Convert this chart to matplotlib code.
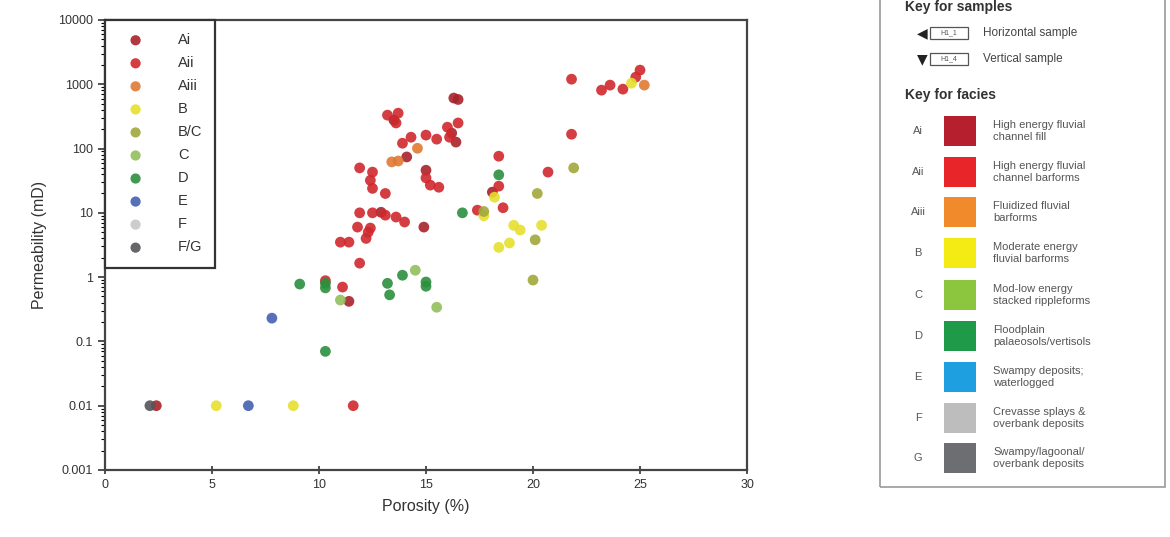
import matplotlib
matplotlib.use("Agg")
import matplotlib.pyplot as plt
from matplotlib.patches import Rectangle
from matplotlib.ticker import FixedLocator, LogLocator, NullFormatter

plt.rcParams['font.family'] = ['Liberation Sans', 'DejaVu Sans']

# Porosity (%) / permeability (mD) per facies
Ai_por = [16.3, 16.5, 16.4, 14.1, 14.9, 18.1, 15.0, 13.5, 2.4, 12.9, 16.2, 11.4]
Ai_perm = [610, 580, 126, 74, 6.0, 21, 46, 277, 0.01, 10.2, 174, 0.42]
Aii_por = [21.8, 23.2, 23.6, 24.2, 25.0, 24.8, 21.8, 18.4, 18.4, 20.7, 17.4, 18.6,
           13.2, 13.7, 13.6, 14.3, 13.9, 15.0, 15.5, 16.0, 16.5, 16.1, 11.9, 12.5,
           12.4, 12.5, 13.1, 15.0, 15.2, 15.6, 11.9, 12.5, 13.1, 13.6, 14.0, 11.8,
           12.4, 11.0, 11.4, 12.2, 12.3, 11.9, 10.3, 11.1, 11.6]
Aii_perm = [1200, 810, 970, 840, 1660, 1290, 167, 76, 26, 43, 11, 12,
            331, 355, 250, 150, 121, 162, 140, 215, 250, 150, 50, 43,
            32, 24, 20, 35, 27, 25, 10, 10, 9.2, 8.6, 7.2, 6.0,
            5.8, 3.5, 3.5, 4.0, 5.0, 1.65, 0.88, 0.7, 0.01]
Aiii_por = [13.4, 13.7, 14.6, 25.2]
Aiii_perm = [62, 64, 101, 970]
B_por = [24.6, 18.2, 17.7, 19.1, 19.4, 20.4, 18.4, 18.9, 5.2, 8.8]
B_perm = [1040, 17.5, 9.0, 6.4, 5.4, 6.4, 2.9, 3.4, 0.01, 0.01]
BC_por = [21.9, 20.2, 17.7, 20.1, 20.0]
BC_perm = [50, 20, 10.5, 3.8, 0.9]
C_por = [11.0, 14.5, 15.5]
C_perm = [0.44, 1.28, 0.34]
D_por = [18.4, 16.7, 9.1, 10.3, 10.3, 13.2, 13.9, 13.3, 15.0, 15.0, 10.3]
D_perm = [39, 10, 0.78, 0.8, 0.68, 0.8, 1.07, 0.53, 0.84, 0.72, 0.07]
E_por = [7.8, 6.7]
E_perm = [0.23, 0.01]
F_por = []
F_perm = []
FG_por = [2.1]
FG_perm = [0.01]

groups = ['Ai', 'Aii', 'Aiii', 'B', 'B/C', 'C', 'D', 'E', 'F', 'F/G']
colors = ['#a8222a', '#d0282c', '#e07a35', '#e6df2e', '#a2a83c', '#93bf5e',
          '#2c8f3e', '#4561b0', '#c8c8c8', '#55555a']
xs = [Ai_por, Aii_por, Aiii_por, B_por, BC_por, C_por, D_por, E_por, F_por, FG_por]
ys = [Ai_perm, Aii_perm, Aiii_perm, B_perm, BC_perm, C_perm, D_perm, E_perm, F_perm, FG_perm]

# facies key
key_codes = ['Ai', 'Aii', 'Aiii', 'B', 'C', 'D', 'E', 'F', 'G']
key_colors = ['#b51f2e', '#e8262a', '#f08a2a', '#f5eb14', '#8cc63f', '#1f9a48',
              '#1ea0e0', '#bdbdbd', '#6d6e71']
key_text = ['High energy fluvial\nchannel fill', 'High energy fluvial\nchannel barforms',
            'Fluidized fluvial\nbarforms', 'Moderate energy\nfluvial barforms',
            'Mod-low energy\nstacked rippleforms', 'Floodplain\npalaeosols/vertisols',
            'Swampy deposits;\nwaterlogged', 'Crevasse splays &\noverbank deposits',
            'Swampy/lagoonal/\noverbank deposits']

fig = plt.figure(figsize=(11.7, 5.37), dpi=100)
ax = fig.add_axes([0.0897, 0.1248, 0.5488, 0.838])

for g, c, x, y in zip(groups, colors, xs, ys):
    ax.scatter(x, y, s=60, color=c, alpha=0.9, edgecolors='none', label=g, zorder=3)

ax.set_yscale('log')
ax.set_xlim(0, 30)
ax.set_ylim(0.001, 10000)
ax.set_xticks([0, 5, 10, 15, 20, 25, 30])
yt = [0.001, 0.01, 0.1, 1, 10, 100, 1000, 10000]
ax.yaxis.set_major_locator(FixedLocator(yt))
ax.set_yticklabels(['0.001', '0.01', '0.1', '1', '10', '100', '1000', '10000'])
ax.yaxis.set_minor_locator(LogLocator(base=10, subs=range(2, 10)))
ax.yaxis.set_minor_formatter(NullFormatter())
ax.tick_params(axis='both', labelsize=9, colors='#333333', width=1.2)
ax.tick_params(axis='x', direction='inout', length=6)
ax.tick_params(axis='y', which='major', direction='out', length=5)
ax.tick_params(axis='y', which='minor', direction='out', length=3, width=0.8)
for sp in ax.spines.values():
    sp.set_linewidth(1.6)
    sp.set_color('#444444')
ax.set_xlabel('Porosity (%)', fontsize=11.5, color='#333333', labelpad=6)
ax.set_ylabel('Permeability (mD)', fontsize=11.5, color='#333333', labelpad=8)

leg = ax.legend(loc='upper left', bbox_to_anchor=(0, 1), borderaxespad=0,
                fancybox=False, edgecolor='#333333', fontsize=10.5,
                labelspacing=0.62, handletextpad=1.7, borderpad=0.9,
                handlelength=2.4, scatterpoints=1, markerscale=0.95)
leg.get_frame().set_linewidth(1.6)
leg.get_frame().set_alpha(1)
for t in leg.get_texts():
    t.set_color('#333333')

# right-hand key panel
W, H = 1170.0, 537.0
def fx(px):
    return px / W
def fy(py):
    return 1 - py / H

fig.patches.append(Rectangle((fx(880), fy(487)), fx(1165) - fx(880), fy(-20) - fy(487),
                             transform=fig.transFigure, fill=False,
                             edgecolor='#9a9a9a', linewidth=1.2))
fig.text(fx(905), fy(7), 'Key for samples', fontsize=10, fontweight='bold',
         color='#333333', va='center')
for py, arrow, code, lab in [(33, '\u25C0', 'H1_1', 'Horizontal sample'),
                             (59, '\u25BC', 'H1_4', 'Vertical sample')]:
    fig.text(fx(922), fy(py), arrow, fontsize=10, ha='center', va='center',
             color='#222222', family='DejaVu Sans')
    fig.patches.append(Rectangle((fx(930), fy(py + 6)), fx(968) - fx(930), fy(py - 6) - fy(py + 6),
                                 transform=fig.transFigure, fill=False,
                                 edgecolor='#555555', linewidth=0.9))
    fig.text(fx(949), fy(py), code, fontsize=5, ha='center', va='center', color='#555555')
    fig.text(fx(983), fy(py), lab, fontsize=8.5, va='center', color='#444444')

fig.text(fx(905), fy(95), 'Key for facies', fontsize=10, fontweight='bold',
         color='#333333', va='center')
row_y = [131, 172, 212, 253, 295, 336, 377, 418, 458]
for py, code, c, txt in zip(row_y, key_codes, key_colors, key_text):
    fig.text(fx(918), fy(py), code, fontsize=8, ha='center', va='center', color='#555555')
    fig.patches.append(Rectangle((fx(944), fy(py + 15)), fx(976) - fx(944), fy(py - 15) - fy(py + 15),
                                 transform=fig.transFigure, facecolor=c, edgecolor='none'))
    fig.text(fx(993), fy(py), txt, fontsize=8, va='center', color='#555555', linespacing=1.25)

fig.savefig('out.png', dpi=100)
